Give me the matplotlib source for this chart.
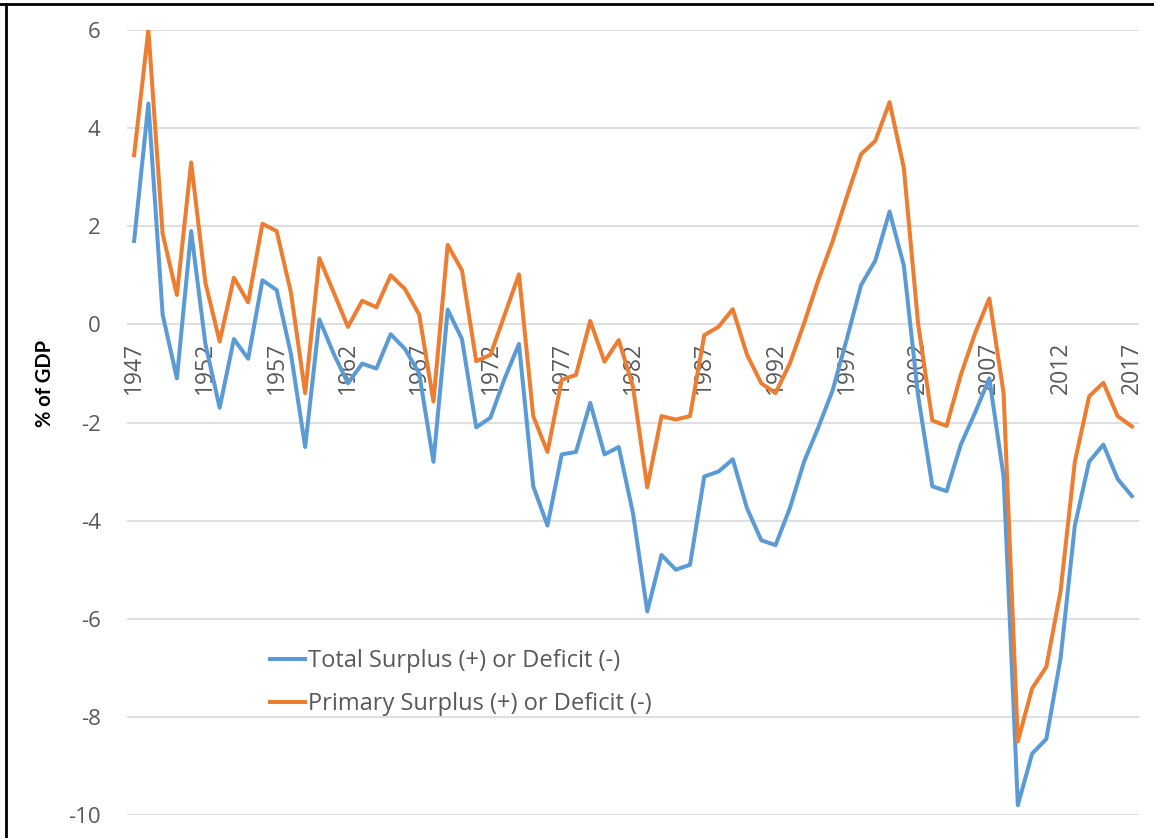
import numpy as np
import matplotlib
matplotlib.use("Agg")
import matplotlib.pyplot as plt
from matplotlib.lines import Line2D

# fiscal years shown on the category axis
years = list(range(1947, 2018))

# total surplus (+) or deficit (-), % of GDP
total = [1.7, 4.5, 0.2, -1.1, 1.9, -0.4, -1.7, -0.3, -0.7, 0.9,
         0.7, -0.6, -2.5, 0.1, -0.6, -1.2, -0.8, -0.9, -0.2, -0.5,
         -1.0, -2.8, 0.3, -0.3, -2.1, -1.9, -1.1, -0.4, -3.3, -4.1,
         -2.65, -2.6, -1.6, -2.65, -2.5, -3.85, -5.85, -4.7, -5.0, -4.9,
         -3.1, -3.0, -2.75, -3.75, -4.4, -4.5, -3.75, -2.8, -2.1, -1.35,
         -0.3, 0.8, 1.3, 2.3, 1.2, -1.45, -3.3, -3.4, -2.45, -1.8,
         -1.1, -3.1, -9.8, -8.75, -8.45, -6.8, -4.1, -2.8, -2.45, -3.15,
         -3.5]

# primary surplus (+) or deficit (-), % of GDP
primary = [3.45, 6.0, 1.85, 0.6, 3.3, 0.85, -0.35, 0.95, 0.45, 2.05,
           1.9, 0.65, -1.4, 1.35, 0.65, -0.05, 0.48, 0.35, 1.0, 0.72,
           0.2, -1.57, 1.62, 1.1, -0.75, -0.62, 0.2, 1.02, -1.87, -2.6,
           -1.13, -1.03, 0.07, -0.76, -0.32, -1.27, -3.32, -1.87, -1.94, -1.87,
           -0.22, -0.05, 0.31, -0.62, -1.2, -1.4, -0.8, 0.02, 0.9, 1.69,
           2.6, 3.47, 3.74, 4.53, 3.19, 0.02, -1.96, -2.07, -1.03, -0.18,
           0.53, -1.4, -8.5, -7.42, -6.98, -5.43, -2.8, -1.47, -1.19, -1.87,
           -2.08]

labels = ["Total Surplus (+) or Deficit (-)", "Primary Surplus (+) or Deficit (-)"]
colors = ["#5B9BD5", "#ED7D31"]
grey = "#595959"

plt.rcParams['font.family'] = ['Open Sans', 'DejaVu Sans']
plt.rcParams['axes.unicode_minus'] = False

W, H = 1154, 838
fig = plt.figure(figsize=(W / 100, H / 100), dpi=100)
x0, x1, y0, y1 = 127, 1139, 30, 815
ax = fig.add_axes([x0 / W, 1 - y1 / H, (x1 - x0) / W, (y1 - y0) / H])

ax.plot(years, total, color=colors[0], lw=2.9, solid_joinstyle='round', zorder=3)
ax.plot(years, primary, color=colors[1], lw=2.9, solid_joinstyle='round', zorder=3)

ax.set_xlim(1946.5, 2017.5)
ax.set_ylim(-10, 6)
ax.set_yticks(np.arange(-10, 7, 2))
ax.yaxis.grid(True, color="#D9D9D9", lw=1.2)
ax.set_axisbelow(True)
for s in ax.spines.values():
    s.set_visible(False)
ax.tick_params(axis='y', length=0, labelsize=16, labelcolor=grey, pad=19)
ax.set_xticks([])

# category labels sit on the zero line, rotated
for yr in years[::5]:
    ax.text(yr, -0.35, str(yr), rotation=90, ha='center', va='top',
            fontsize=16.5, color=grey, zorder=2)

fig.text(45 / W, 1 - 383 / H, "% of GDP", rotation=90, ha='center', va='center',
         fontsize=14.5, fontweight='bold', color='black', family=['Lato', 'DejaVu Sans'])

handles = [Line2D([], [], color=c, lw=2.9) for c in colors]
ax.legend(handles, labels, loc='upper left', bbox_to_anchor=(134 / (x1 - x0), 1 - (640 - y0) / (y1 - y0)),
          frameon=False, fontsize=17, labelcolor=grey, handlelength=1.48,
          handletextpad=0.13, labelspacing=0.8, borderaxespad=0)

# frame lines from the screenshot
fig.add_artist(Line2D([0, 1], [1 - 4 / H, 1 - 4 / H], color='black', lw=2, transform=fig.transFigure))
fig.add_artist(Line2D([6 / W, 6 / W], [0, 1 - 4 / H], color='black', lw=2, transform=fig.transFigure))

fig.savefig("out.png", dpi=100)
